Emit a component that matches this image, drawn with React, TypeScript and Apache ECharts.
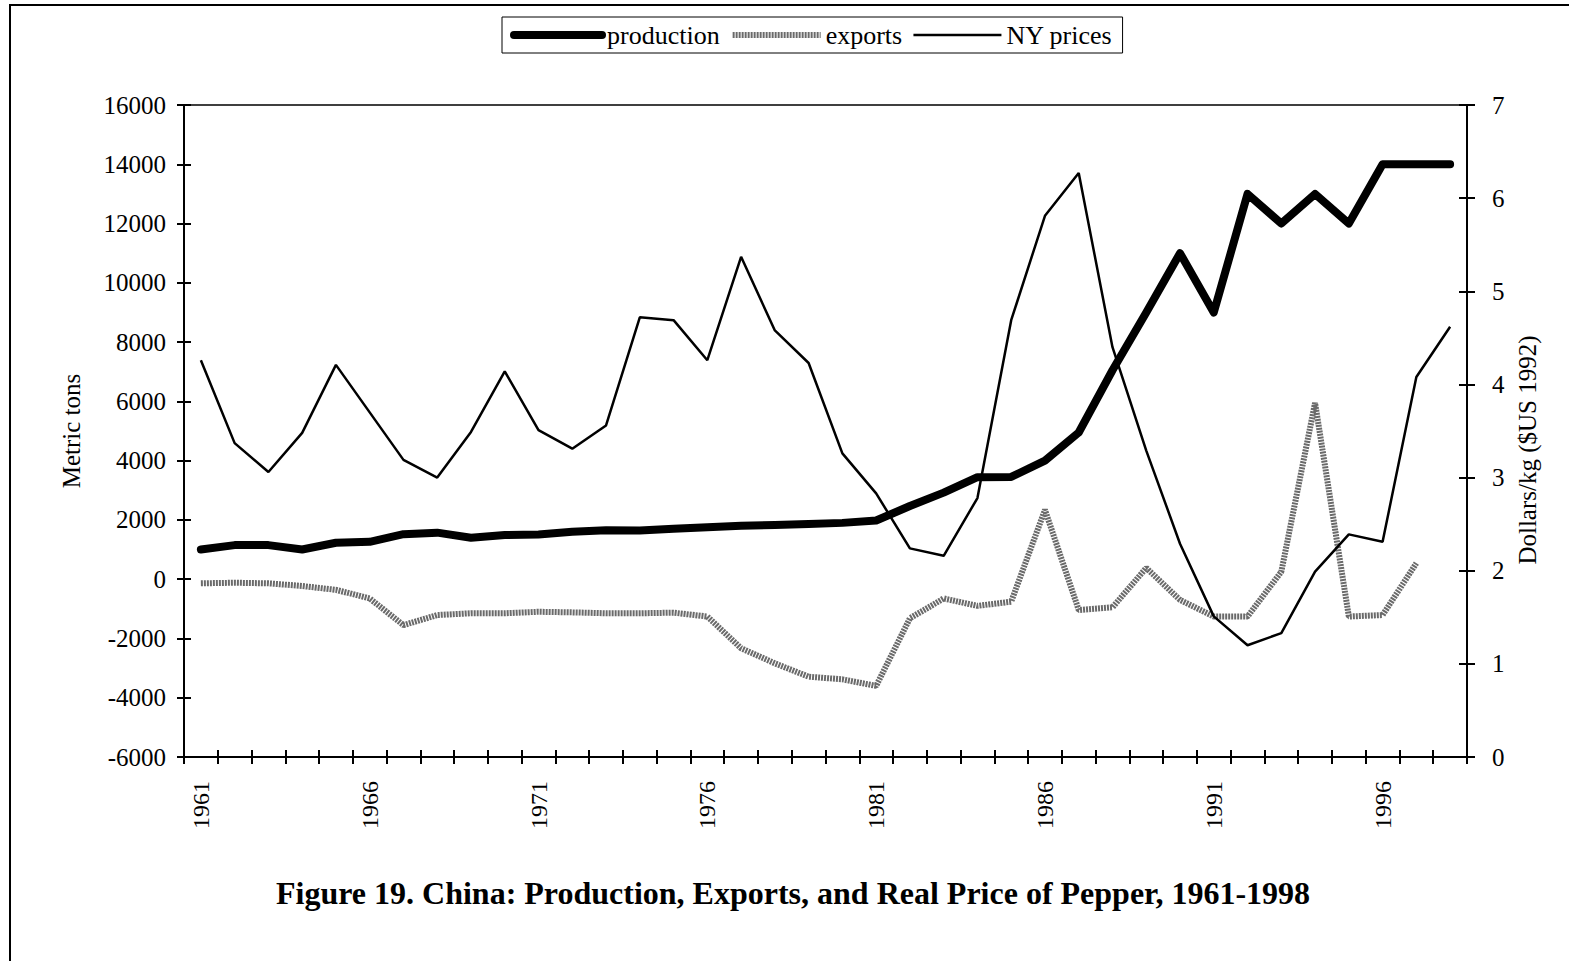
import React, { useEffect, useRef } from "react";
import * as echarts from "echarts";

const years = ["1961","1962","1963","1964","1965","1966","1967","1968","1969","1970","1971","1972","1973","1974","1975","1976","1977","1978","1979","1980","1981","1982","1983","1984","1985","1986","1987","1988","1989","1990","1991","1992","1993","1994","1995","1996","1997","1998"];

const production = [1000,1150,1150,1000,1230,1260,1520,1570,1400,1490,1510,1600,1650,1640,1700,1750,1800,1830,1860,1900,1980,2470,2920,3440,3450,4000,4950,7050,9000,11000,9000,13000,12000,13000,12000,14000,14000,14000];

const exportsT = [-140,-120,-140,-230,-360,-650,-1550,-1210,-1150,-1150,-1100,-1120,-1150,-1150,-1130,-1260,-2330,-2840,-3290,-3380,-3600,-1320,-650,-900,-760,2340,-1040,-950,380,-700,-1260,-1260,250,5950,-1260,-1210,540,null];

const nyPrices = [4.26,3.37,3.06,3.48,4.21,3.70,3.19,3.00,3.49,4.14,3.51,3.31,3.56,4.72,4.69,4.26,5.37,4.58,4.23,3.26,2.83,2.24,2.16,2.78,4.69,5.81,6.27,4.40,3.29,2.29,1.51,1.20,1.33,1.99,2.39,2.31,4.08,4.62];

const FONT = '"Liberation Serif", "Times New Roman", serif';
const EXPORT_COLOR = "#6a6a6a";

export default function App() {
  const ref = useRef<HTMLDivElement>(null);
  useEffect(() => {
    if (!ref.current) return;
    const chart = echarts.init(ref.current, null, { renderer: "svg" });
    const axisLineStyle = { color: "#000", width: 2 };
    const plain = (v: number) => String(v);
    chart.setOption({
      animation: false,
      backgroundColor: "#fff",
      textStyle: { fontFamily: FONT, color: "#000" },
      title: {
        text: "Figure 19. China: Production, Exports, and Real Price of Pepper, 1961-1998",
        left: 788,
        top: 872,
        textAlign: "center",
        textStyle: { fontFamily: FONT, fontWeight: "bold", fontSize: 32, color: "#000" },
      },
      legend: {
        left: 502,
        top: 17,
        padding: [5, 10, 5, 8],
        itemGap: 10,
        itemWidth: 88,
        itemHeight: 20,
        borderColor: "#000",
        borderWidth: 1,
        itemStyle: { opacity: 0 },
        textStyle: { fontFamily: FONT, fontSize: 26, color: "#000" },
        data: [
          { name: "production", lineStyle: { width: 8, color: "#000" } },
          { name: "exports", lineStyle: { width: 6, color: EXPORT_COLOR, type: [2, 1] } },
          { name: "NY prices", lineStyle: { width: 2.5, color: "#000" } },
        ],
      },
      grid: {
        left: 184,
        right: 102,
        top: 105,
        bottom: 204,
        show: true,
        borderColor: "#000",
        borderWidth: 1.5,
        backgroundColor: "transparent",
      },
      xAxis: [
        {
          type: "category",
          data: years,
          boundaryGap: true,
          axisLine: { onZero: false, lineStyle: axisLineStyle },
          axisTick: { show: true, interval: 0, length: 7, lineStyle: { color: "#000", width: 2 } },
          axisLabel: {
            interval: 4,
            rotate: 90,
            margin: 24,
            fontFamily: FONT,
            fontSize: 24,
            color: "#000",
          },
          splitLine: { show: false },
        },
        {
          type: "category",
          data: years,
          position: "bottom",
          boundaryGap: true,
          axisLine: { show: false, onZero: false },
          axisTick: { show: true, inside: true, interval: 0, length: 7, lineStyle: { color: "#000", width: 2 } },
          axisLabel: { show: false },
          splitLine: { show: false },
        },
      ],
      yAxis: [
        {
          type: "value",
          position: "left",
          min: -6000,
          max: 16000,
          interval: 2000,
          name: "Metric tons",
          nameLocation: "middle",
          nameRotate: 90,
          nameGap: 100,
          nameTextStyle: { fontFamily: FONT, fontSize: 25, color: "#000" },
          axisLine: { show: true, onZero: false, lineStyle: axisLineStyle },
          axisTick: { show: true, length: 7, lineStyle: { color: "#000", width: 2 } },
          axisLabel: { margin: 18, fontFamily: FONT, fontSize: 25, color: "#000", formatter: plain },
          splitLine: { show: false },
        },
        {
          type: "value",
          position: "right",
          min: 0,
          max: 7,
          interval: 1,
          axisLine: { show: true, onZero: false, lineStyle: axisLineStyle },
          axisTick: { show: true, length: 8, lineStyle: { color: "#000", width: 2 } },
          axisLabel: { margin: 25, fontFamily: FONT, fontSize: 25, color: "#000", formatter: plain },
          splitLine: { show: false },
        },
        {
          type: "value",
          position: "left",
          min: -6000,
          max: 16000,
          interval: 2000,
          axisLine: { show: false, onZero: false },
          axisTick: { show: true, inside: true, length: 7, lineStyle: { color: "#000", width: 2 } },
          axisLabel: { show: false },
          splitLine: { show: false },
        },
        {
          type: "value",
          position: "right",
          min: 0,
          max: 7,
          interval: 1,
          axisLine: { show: false, onZero: false },
          axisTick: { show: true, inside: true, length: 8, lineStyle: { color: "#000", width: 2 } },
          axisLabel: { show: false },
          splitLine: { show: false },
        },
      ],
      graphic: [
        {
          type: "polyline",
          shape: { points: [[10, 961], [10, 5], [1569, 5]] },
          style: { stroke: "#000", lineWidth: 2, fill: "none" },
          silent: true,
        },
        {
          type: "text",
          x: 1527,
          y: 450,
          rotation: Math.PI / 2,
          style: {
            text: "Dollars/kg ($US 1992)",
            font: `25px ${FONT}`,
            fill: "#000",
            textAlign: "center",
            textVerticalAlign: "middle",
          },
          silent: true,
        },
      ],
      series: [
        {
          name: "production",
          type: "line",
          data: production,
          xAxisIndex: 0,
          yAxisIndex: 0,
          symbol: "none",
          lineStyle: { color: "#000", width: 8, cap: "round", join: "round" },
          itemStyle: { color: "#000" },
          z: 4,
        },
        {
          name: "exports",
          type: "line",
          data: exportsT,
          xAxisIndex: 0,
          yAxisIndex: 0,
          symbol: "none",
          lineStyle: { color: EXPORT_COLOR, width: 6, type: [2, 1] },
          itemStyle: { color: EXPORT_COLOR },
          z: 3,
        },
        {
          name: "NY prices",
          type: "line",
          data: nyPrices,
          xAxisIndex: 0,
          yAxisIndex: 1,
          symbol: "none",
          lineStyle: { color: "#000", width: 2.5 },
          itemStyle: { color: "#000" },
          z: 5,
        },
      ],
    });
    return () => chart.dispose();
  }, []);
  return (
    <div
      ref={ref}
      style={{ position: "fixed", left: 0, top: 0, width: 1569, height: 961, background: "#fff" }}
    />
  );
}
